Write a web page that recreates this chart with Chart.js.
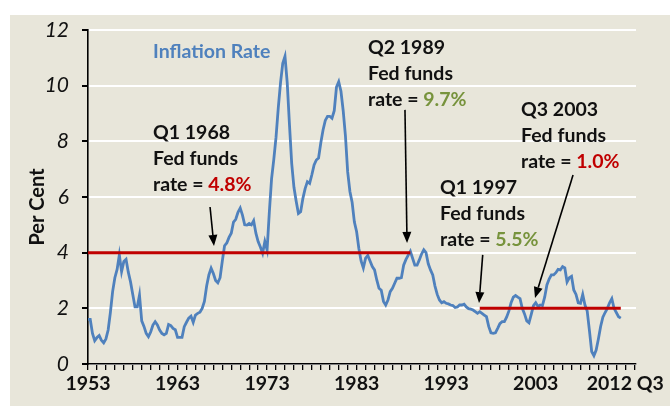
<!DOCTYPE html>
<html>
<head>
<meta charset="utf-8">
<script src="https://cdn.jsdelivr.net/npm/chart.js@4.4.1/dist/chart.umd.min.js"></script>
<style>
  html, body { margin: 0; padding: 0; background: #fff; }
  #wrap { width: 670px; height: 406px; }
</style>
</head>
<body>
<div id="wrap"><canvas id="inflation" width="670" height="406"></canvas></div>
<script>
// Inflation rate, quarterly, 1953 Q1 .. 2012 Q3
var startYear = 1953;
var inflation = [
  1.6, 1.6, 1.1, 0.84, 0.95, 1.02, 0.85, 0.76, 0.9, 1.22, 1.85, 2.6, 3.1, 3.4, 3.92, 3.32,
  3.68, 3.76, 3.3, 2.95, 2.5, 2.05, 2.05, 2.48, 1.55, 1.35, 1.1, 0.98, 1.15, 1.4, 1.52, 1.4,
  1.22, 1.1, 1.05, 1.1, 1.42, 1.38, 1.28, 1.23, 0.96, 0.96, 0.96, 1.34, 1.5, 1.65, 1.72, 1.5,
  1.76, 1.82, 1.86, 2.0, 2.25, 2.8, 3.2, 3.44, 3.25, 3.0, 2.92, 3.1, 3.7, 4.25, 4.35, 4.55,
  4.7, 5.1, 5.2, 5.45, 5.6, 5.35, 5.0, 4.99, 5.05, 5.0, 5.15, 4.7, 4.4, 4.2, 3.98, 4.4,
  4.1, 5.45, 6.65, 7.35, 8.15, 9.2, 10.1, 10.8, 11.05, 10.1, 8.6, 7.2, 6.35, 5.85, 5.41, 5.47,
  5.95, 6.3, 6.55, 6.49, 6.8, 7.15, 7.33, 7.4, 7.95, 8.41, 8.75, 8.9, 8.9, 8.83, 9.1, 9.95,
  10.14, 9.8, 9.1, 8.2, 6.9, 6.2, 5.8, 5.1, 4.75, 4.15, 3.7, 3.45, 3.8, 3.9, 3.7, 3.5,
  3.38, 3.02, 2.72, 2.65, 2.25, 2.12, 2.3, 2.6, 2.72, 2.9, 3.08, 3.08, 3.1, 3.55, 3.75, 3.9,
  4.05, 3.8, 3.55, 3.55, 3.74, 3.95, 4.1, 4.0, 3.6, 3.38, 3.2, 2.8, 2.5, 2.3, 2.2, 2.24,
  2.18, 2.16, 2.12, 2.1, 2.03, 2.05, 2.12, 2.12, 2.15, 2.05, 1.99, 1.97, 1.94, 1.88, 1.82, 1.88,
  1.82, 1.76, 1.7, 1.35, 1.12, 1.1, 1.12, 1.28, 1.45, 1.52, 1.52, 1.68, 1.9, 2.2, 2.4, 2.46,
  2.4, 2.35, 2.0, 1.8, 1.55, 1.48, 1.78, 2.1, 2.2, 2.07, 2.12, 2.1, 2.4, 2.84, 3.05, 3.2,
  3.2, 3.28, 3.4, 3.38, 3.5, 3.45, 2.95, 3.1, 3.15, 2.66, 2.5, 2.2, 2.18, 2.5, 2.12, 1.9,
  1.2, 0.45, 0.3, 0.5, 0.9, 1.35, 1.68, 1.85, 2.0, 2.2, 2.35, 2.0, 1.85, 1.7, 1.65
];

var yTicks = [0, 2, 4, 6, 8, 10, 12];
var yearLabels = [1953, 1963, 1973, 1983, 1993, 2003];
var lastLabel = '2012 Q3';

// fed funds benchmark lines
var fedLevel = [4, 2];
var fedFrom = [1953, 1996.75];
var fedTo = [1989, 2012.5];

// call-outs
var noteTitle = ['Q1 1968', 'Q2 1989', 'Q1 1997', 'Q3 2003'];
var noteRate = ['4.8%', '9.7%', '5.5%', '1.0%'];
var noteColor = ['#C00000', '#77933C', '#77933C', '#C00000'];

var blue = '#4F81BD';
var red = '#C00000';
var font = 'Lato, "Open Sans", sans-serif';

// where each call-out sits (data coordinates)
var notePlace = [
  { x: 1960.26, y: 8.30, tail: [1966.63, 5.64], tip: [1967.07, 4.24] },
  { x: 1984.27, y: 11.35, tail: [1988.40, 9.13], tip: [1988.63, 4.35] },
  { x: 1992.31, y: 6.32, tail: [1997.08, 3.92], tip: [1996.67, 2.19] },
  { x: 2001.36, y: 9.13, tail: [2007.17, 6.79], tip: [2002.92, 2.37] }
];

function arrow(c, x1, y1, x2, y2) {
  var a = Math.atan2(y2 - y1, x2 - x1), len = 11, w = 4.5;
  c.beginPath();
  c.moveTo(x1, y1);
  c.lineTo(x2 - Math.cos(a) * len, y2 - Math.sin(a) * len);
  c.stroke();
  c.beginPath();
  c.moveTo(x2, y2);
  c.lineTo(x2 - Math.cos(a) * len + Math.sin(a) * w, y2 - Math.sin(a) * len - Math.cos(a) * w);
  c.lineTo(x2 - Math.cos(a) * len - Math.sin(a) * w, y2 - Math.sin(a) * len + Math.cos(a) * w);
  c.closePath();
  c.fill();
}

var decor = {
  id: 'decor',
  beforeDraw: function (chart) {
    var c = chart.ctx;
    c.save();
    c.fillStyle = '#ffffff';
    c.fillRect(0, 0, chart.width, chart.height);
    c.fillStyle = '#E8E6DA';
    c.fillRect(10, 15, chart.width - 10, chart.height - 15);
    c.restore();
  },
  afterDraw: function (chart) {
    var c = chart.ctx, xs = chart.scales.x, ys = chart.scales.y;
    c.save();

    // axis title
    c.translate(38, 207);
    c.rotate(-Math.PI / 2);
    c.fillStyle = '#111';
    c.font = 'bold 20px ' + font;
    c.textAlign = 'center';
    c.textBaseline = 'middle';
    c.fillText('Per Cent', 0, 0);
    c.setTransform(1, 0, 0, 1, 0, 0);

    c.font = 'bold 19.5px ' + font;
    c.textAlign = 'left';
    c.fillStyle = blue;
    c.fillText('Inflation Rate', xs.getPixelForValue(1960.26), ys.getPixelForValue(11.21));

    for (var i = 0; i < noteTitle.length; i++) {
      var p = notePlace[i];
      var tx = xs.getPixelForValue(p.x), ty = ys.getPixelForValue(p.y);
      c.fillStyle = '#111';
      c.fillText(noteTitle[i], tx, ty);
      c.fillText('Fed funds', tx, ty + 26);
      c.fillText('rate = ', tx, ty + 52);
      c.fillStyle = noteColor[i];
      c.fillText(noteRate[i], tx + c.measureText('rate = ').width, ty + 52);

      c.strokeStyle = '#000';
      c.fillStyle = '#000';
      c.lineWidth = 1.6;
      arrow(c, xs.getPixelForValue(p.tail[0]), ys.getPixelForValue(p.tail[1]),
        xs.getPixelForValue(p.tip[0]), ys.getPixelForValue(p.tip[1]));
    }
    c.restore();
  }
};

var datasets = [];
for (var k = 0; k < fedLevel.length; k++) {
  datasets.push({
    data: [{ x: fedFrom[k], y: fedLevel[k] }, { x: fedTo[k], y: fedLevel[k] }],
    borderColor: red,
    borderWidth: 3,
    pointRadius: 0
  });
}
datasets.push({
  data: inflation.map(function (v, i) { return { x: startYear + i / 4, y: v }; }),
  borderColor: blue,
  borderWidth: 2.8,
  pointRadius: 0,
  tension: 0
});

new Chart(document.getElementById('inflation'), {
  type: 'line',
  data: { datasets: datasets },
  options: {
    responsive: false,
    animation: false,
    layout: { padding: { left: 0, top: 30, right: 34, bottom: 0 } },
    plugins: { legend: { display: false }, tooltip: { enabled: false } },
    scales: {
      x: {
        type: 'linear',
        min: 1953,
        max: 2014.2,
        afterBuildTicks: function (scale) {
          var t = [];
          for (var y = 1953; y <= 2014; y++) t.push({ value: y });
          scale.ticks = t;
        },
        afterFit: function (scale) { scale.height = 42; },
        ticks: {
          autoSkip: false,
          maxRotation: 0,
          padding: 2,
          color: '#111',
          font: { family: font, size: 19.5, weight: 'bold' },
          callback: function (v) {
            if (yearLabels.indexOf(v) >= 0) return String(v);
            if (v === 2013) return lastLabel;
            return '';
          }
        },
        grid: { drawOnChartArea: false, drawTicks: true, tickLength: 6, tickColor: '#000', lineWidth: 1.3 },
        border: { display: true, color: '#000', width: 1.6 }
      },
      y: {
        min: 0,
        max: 12,
        afterBuildTicks: function (scale) {
          scale.ticks = yTicks.map(function (v) { return { value: v }; });
        },
        afterFit: function (scale) { scale.width = 88; },
        ticks: {
          padding: 13,
          color: '#111',
          font: { family: font, size: 21, style: 'italic' }
        },
        grid: { color: '#ffffff', lineWidth: 2, drawTicks: true, tickLength: 6, tickColor: '#000' },
        border: { display: true, color: '#000', width: 1.6 }
      }
    }
  },
  plugins: [decor]
});
</script>
</body>
</html>
